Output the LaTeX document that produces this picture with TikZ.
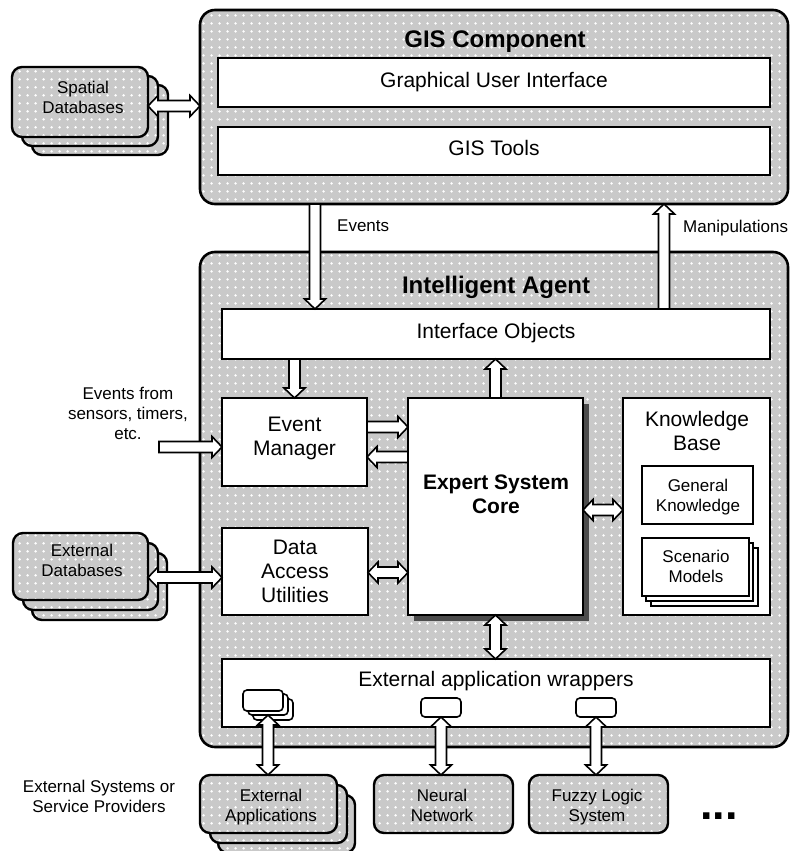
\documentclass[tikz,border=0pt]{standalone}
\usepackage{fontspec}
\setmainfont{Liberation Sans}
\usetikzlibrary{calc,patterns,shadows}
\pgfdeclarepatternformonly{wdots}{\pgfqpoint{0pt}{0pt}}{\pgfqpoint{8pt}{8pt}}{\pgfqpoint{8pt}{8pt}}{\pgfpathcircle{\pgfqpoint{4pt}{4pt}}{1.5pt}\pgfusepath{fill}}
\newcommand\myfs{\fontsize{17}{20}\selectfont}
\newcommand\myfl{\fontsize{21}{24}\selectfont}
\newcommand\myft{\fontsize{24}{28}\selectfont\bfseries}
\newcommand\myaw{5.5pt}
\newcommand\myaH{10.5pt}
\newcommand\myah{10pt}
\newcommand\bx[6][]{\node[#1,minimum width={(#5)-(#3)},minimum height={(#6)-(#4)}] (#2) at ({((#3)+(#5))/2},{((#4)+(#6))/2}) {};}
\newcommand\sarr[2]{\draw[arr] ($(#1)!\myaw!90:(#2)$) -- ($(#2)!\myah!(#1)!\myaw!-90:(#1)$) -- ($(#2)!\myah!(#1)!\myaH!-90:(#1)$) -- (#2) -- ($(#2)!\myah!(#1)!\myaH!90:(#1)$) -- ($(#2)!\myah!(#1)!\myaw!90:(#1)$) -- ($(#1)!\myaw!-90:(#2)$) -- cycle;}
\newcommand\darr[2]{\draw[arr] (#1) -- ($(#1)!\myah!(#2)!\myaH!90:(#2)$) -- ($(#1)!\myah!(#2)!\myaw!90:(#2)$) -- ($(#2)!\myah!(#1)!\myaw!-90:(#1)$) -- ($(#2)!\myah!(#1)!\myaH!-90:(#1)$) -- (#2) -- ($(#2)!\myah!(#1)!\myaH!90:(#1)$) -- ($(#2)!\myah!(#1)!\myaw!90:(#1)$) -- ($(#1)!\myah!(#2)!\myaw!-90:(#2)$) -- ($(#1)!\myah!(#2)!\myaH!-90:(#2)$) -- cycle;}
\tikzset{
  pat/.style={preaction={fill=black!21}, pattern=wdots, pattern color=white},
  bigbox/.style={draw, line width=2.6pt, rounded corners=15pt, pat, inner sep=0pt, outer sep=0pt},
  bar/.style={draw, line width=2pt, fill=white, inner sep=0pt, outer sep=0pt},
  extbox/.style={draw, line width=2.4pt, rounded corners=10pt, pat, inner sep=0pt, outer sep=0pt},
  icon/.style={draw, line width=1.6pt, rounded corners=4pt, fill=white, inner sep=0pt, outer sep=0pt},
  shadowed/.style={general shadow={fill=black!70, shadow xshift=6pt, shadow yshift=-6pt}},
  arr/.style={draw, fill=white, line width=1.6pt, line join=miter},
  lbl/.style={inner sep=0pt, align=center},
}
\begin{document}
\begin{tikzpicture}[x=1pt,y=-1pt]
\useasboundingbox (0,0) rectangle (790,851);

% ---------- GIS component ----------
\bx[bigbox]{gis}{200}{10}{788}{204}
\bx[bar]{gui}{218}{58}{770}{107}
\bx[bar]{tools}{218}{127}{770}{175}
\node[lbl,font=\myft,anchor=base] (gist) at (495,48) {GIS Component};
\node[lbl,font=\myfl,anchor=base] (guit) at (494,87) {Graphical User Interface};
\node[lbl,font=\myfl,anchor=base] (toolst) at (494,155) {GIS Tools};

% ---------- Spatial databases ----------
\bx[extbox]{sdbc}{32}{85}{168}{155}
\bx[extbox]{sdbb}{22}{76}{158}{146}
\bx[extbox]{sdb}{12}{67}{148}{137}
\node[lbl,font=\myfs] (sdbt) at (83,97) {Spatial\\Databases};

% ---------- Intelligent agent ----------
\bx[bigbox]{ia}{200}{252}{788}{747}
\node[lbl,font=\myft,anchor=base] (iat) at (496,293) {Intelligent Agent};
\bx[bar]{io}{222}{309}{770}{359}
\node[lbl,font=\myfl,anchor=base] (iot) at (496,338) {Interface Objects};
\bx[bar]{em}{222}{398}{367}{486}
\node[lbl,font=\myfl] (emt) at (294.5,438.5) {Event\\Manager};
\bx[bar]{dau}{222}{528}{368}{615}
\node[lbl,font=\myfl] (daut) at (295,571.5) {Data\\Access\\Utilities};
\bx[bar,shadowed]{esc}{408}{398}{583}{615}
\node[lbl,font=\myfl\bfseries] (esct) at (496,494.5) {Expert System\\Core};
\bx[bar]{kb}{623}{398}{770}{615}
\node[lbl,font=\myfl] (kbt) at (697,430.5) {Knowledge\\Base};
\bx[bar]{gk}{642}{466}{753}{524}
\node[lbl,font=\myfs] (gkt) at (698,497) {General\\Knowledge};
\bx[bar]{smc}{651}{548}{758}{606}
\bx[bar]{smb}{646}{543}{753}{601}
\bx[bar]{sm}{642}{538}{749}{596}
\node[lbl,font=\myfs] (smt) at (696,566) {Scenario\\Models};
\bx[bar]{eaw}{222}{659}{770}{727}
\node[lbl,font=\myfl,anchor=base] (eawt) at (496,686) {External application wrappers};
\bx[icon]{ic1c}{253}{699}{293}{720}
\bx[icon]{ic1b}{248}{694}{288}{715}
\bx[icon]{ic1}{243}{690}{283}{711}
\bx[icon]{ic2}{421}{698}{461}{717}
\bx[icon]{ic3}{576}{698}{616}{717}

% ---------- External databases ----------
\bx[extbox]{edbc}{32}{553}{167}{620}
\bx[extbox]{edbb}{23}{543}{158}{610}
\bx[extbox]{edb}{13}{533}{148}{600}
\node[lbl,font=\myfs] (edbt) at (82,560) {External\\Databases};

% ---------- External systems ----------
\bx[extbox]{eapc}{218}{795}{355}{853}
\bx[extbox]{eapb}{210}{785}{347}{843}
\bx[extbox]{eap}{200}{775}{337}{833}
\node[lbl,font=\myfs] (eapt) at (271,806.8) {External\\Applications};
\bx[extbox]{nn}{374}{775}{513}{833}
\node[lbl,font=\myfs] (nnt) at (442,805) {Neural\\Network};
\bx[extbox]{fls}{529}{775}{668}{833}
\node[lbl,font=\myfs] (flst) at (597,807.5) {Fuzzy Logic\\System};
\node[lbl,font=\fontsize{45}{50}\selectfont\bfseries,anchor=base west] (dots) at (700,819) {...};
\node[lbl,font=\myfs] (est) at (99,796) {External Systems or\\Service Providers};
\node[lbl,font=\myfs] (evs) at (128,413) {Events from\\sensors, timers,\\etc.};

% ---------- connectors ----------
\coordinate (c1) at ($(sdb.east)+(0,4)$);
\coordinate (c1b) at (gis.west |- c1);
\darr{c1}{c1b}

\coordinate (c2) at ($(gis.south)+(-179,0)$);
\coordinate (c2b) at (io.north -| c2);
\sarr{c2}{c2b}
\node[lbl,font=\myfs,anchor=base west] (evl) at (337,231) {Events};

\coordinate (c3) at ($(io.north)+(168,0)$);
\coordinate (c3b) at (gis.south -| c3);
\sarr{c3}{c3b}
\node[lbl,font=\myfs,anchor=base west] (mpl) at (683,232) {Manipulations};

\coordinate (c4) at (io.south -| em.north);
\sarr{c4}{em.north}

\coordinate (c5) at (io.south -| esc.north);
\sarr{esc.north}{c5}

\coordinate (c6) at ($(em.east)+(0,-15)$);
\coordinate (c6b) at (esc.west |- c6);
\sarr{c6}{c6b}

\coordinate (c7) at ($(esc.west |- em.east)+(0,15)$);
\coordinate (c7b) at (em.east |- c7);
\sarr{c7}{c7b}

\coordinate (c8) at ($(dau.east)+(0,1)$);
\coordinate (c8b) at (esc.west |- c8);
\darr{c8}{c8b}

\coordinate (c9) at ($(edb.east)+(0,11)$);
\coordinate (c9b) at (dau.west |- c9);
\darr{c9}{c9b}

\coordinate (c10) at ($(esc.east)+(0,3.5)$);
\coordinate (c10b) at (kb.west |- c10);
\darr{c10}{c10b}

\coordinate (c11) at (eaw.north -| esc.south);
\darr{esc.south}{c11}

\coordinate (c12) at ($(em.west)+(-63,5)$);
\coordinate (c12b) at (em.west |- c12);
\sarr{c12}{c12b}

\coordinate (c13) at (eap.north -| ic1b.south);
\darr{ic1b.south}{c13}
\coordinate (c14) at (nn.north -| ic2.south);
\darr{ic2.south}{c14}
\coordinate (c15) at (fls.north -| ic3.south);
\darr{ic3.south}{c15}
\end{tikzpicture}
\end{document}
